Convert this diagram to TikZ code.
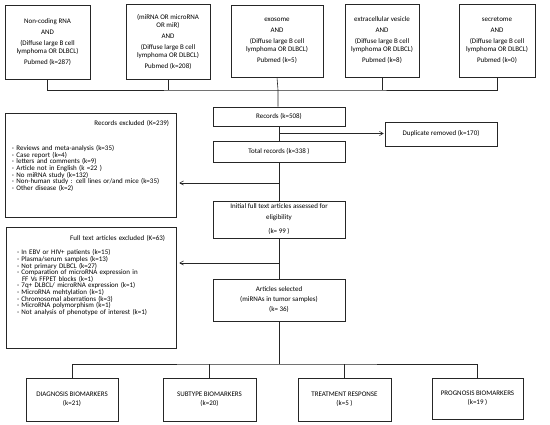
\documentclass[tikz,border=0pt]{standalone}
\usepackage{fontspec}
\setmainfont{Carlito}
\usepackage{tikz}
\usetikzlibrary{arrows,shapes,positioning}
\tikzstyle{srcbox} = [rectangle, draw=black!85, line width=0.6pt, align=center, inner sep=1pt, font=\fontsize{7}{8}\selectfont]
\tikzstyle{exclbox} = [rectangle, draw=black!85, line width=0.6pt, align=left, inner sep=1pt, font=\fontsize{7}{6.6}\selectfont]
\tikzstyle{line} = [draw=black!85, line width=0.6pt]
\tikzstyle{arrow} = [line, ->, >=angle 60, shorten >=3pt]

\begin{document}
\begin{tikzpicture}[x=1pt,y=-1pt]
\useasboundingbox (0,0) rectangle (550,425);
% search strings
\node[srcbox, minimum width=85pt, minimum height=74pt] (src1) at (47.5,42) {Non-coding RNA\\[3pt]AND\\[3pt](Diffuse large B cell\\lymphoma OR DLBCL)\\[3pt]Pubmed (k=287)};
\node[srcbox, minimum width=84pt, minimum height=75pt] (src2) at (168,41.5) {(miRNA OR microRNA\\OR miR)\\[3pt]AND\\[3pt](Diffuse large B cell\\lymphoma OR DLBCL)\\[3pt]Pubmed (k=208)};
\node[srcbox, minimum width=92pt, minimum height=72pt] (src3) at (277,41) {exosome\\[3pt]AND\\[3pt](Diffuse large B cell\\lymphoma OR DLBCL)\\[3pt]Pubmed (k=5)};
\node[srcbox, minimum width=74pt, minimum height=73pt] (src4) at (382,40.5) {extracellular vesicle\\[3pt]AND\\[3pt](Diffuse large B cell\\lymphoma OR DLBCL)\\[3pt]Pubmed (k=8)};
\node[srcbox, minimum width=76pt, minimum height=73pt] (src5) at (497,40.5) {secretome\\[3pt]AND\\[3pt](Diffuse large B cell\\lymphoma OR DLBCL)\\[3pt]Pubmed (k=0)};

% main flow
\node[srcbox, minimum width=132pt, minimum height=19pt] (rec) at (279,116.5) {Records (k=508)};
\node[srcbox, minimum width=132pt, minimum height=21pt] (tot) at (279,151.5) {Total records (k=338 )};
\node[srcbox, minimum width=112pt, minimum height=24pt] (dup) at (441,134) {Duplicate removed (k=170)};
\node[srcbox, minimum width=132pt, minimum height=37pt] (init) at (279,219.5) {Initial full text articles assessed for\\[3pt]eligibility\\[6pt](k= 99 )};
\node[srcbox, minimum width=132pt, minimum height=42pt] (sel) at (279,300) {Articles selected\\[2pt](miRNAs in tumor samples)\\[2pt](k= 36)};

% exclusions
\node[exclbox, minimum width=171pt, minimum height=104pt, text width=157pt] (exc1) at (90.5,165) {\hspace*{\fill}Records excluded (K=239)\hspace*{\fill}\\[19pt]
- Reviews and meta-analysis (k=35)\\
- Case report (k=4)\\
- letters and comments (k=9)\\
- Article not in English (k =22 )\\
- No miRNA study (k=132)\\
- Non-human study : cell lines or/and mice (k=35)\\
- Other disease (k=2)\\[13pt]\mbox{}};
\node[exclbox, minimum width=170pt, minimum height=121pt, text width=148pt] (exc2) at (91,287.5) {\hspace*{\fill}Full text articles excluded (K=63)\hspace*{\fill}\\[8pt]
- In EBV or HIV+ patients (k=15)\\
- Plasma/serum samples (k=13)\\
- Not primary DLBCL (k=27)\\
- Comparation of microRNA expression in\\
\hspace*{5pt}FF Vs FFPET blocks (k=1)\\
- 7q+ DLBCL/ microRNA expression (k=1)\\
- MicroRNA mehtylation (k=1)\\
- Chromosomal aberrations (k=3)\\
- MicroRNA polymorphism (k=1)\\
- Not analysis of phenotype of interest (k=1)\\[19pt]\mbox{}};

% outcomes
\node[srcbox, minimum width=92pt, minimum height=43pt] (diag) at (72,399.5) {DIAGNOSIS BIOMARKERS\\[1pt](k=21)};
\node[srcbox, minimum width=93pt, minimum height=43pt] (subt) at (209.5,399.5) {SUBTYPE BIOMARKERS\\[1pt](k=20)};
\node[srcbox, minimum width=93pt, minimum height=43pt] (treat) at (344.5,399.5) {TREATMENT RESPONSE\\[1pt](k=5 )};
\node[srcbox, minimum width=91pt, minimum height=41pt] (prog) at (477.5,398.5) {PROGNOSIS BIOMARKERS\\[1pt](k=19 )};

% connectors
\coordinate (jtop) at (278,90);
\coordinate (jdup) at (279,133.5);
\coordinate (jex1) at (279,183);
\coordinate (jex2) at (279,263);
\coordinate (jbot) at (279,364);
\draw[line] (src1.south) |- (jtop) -| (src5.south);
\draw[line] (src2.south) -- (src2.south |- jtop);
\draw[line] (src4.south) -- (src4.south |- jtop);
\draw[line] (src3.south) -- (jtop) -- (rec.north -| jtop);
\draw[line] (rec.south) -- (tot.north);
\draw[arrow, shorten >=1pt] (jdup) -- (jdup -| dup.west);
\draw[line] (tot.south) -- (init.north);
\draw[arrow] (jex1) -- (jex1 -| exc1.east);
\draw[line] (init.south) -- (sel.north);
\draw[arrow] (jex2) -- (jex2 -| exc2.east);
\draw[line] (sel.south) -- (jbot);
\draw[line] (diag.north) |- (jbot) -| (prog.north);
\draw[line] (subt.north) -- (subt.north |- jbot);
\draw[line] (treat.north) -- (treat.north |- jbot);
\end{tikzpicture}
\end{document}
